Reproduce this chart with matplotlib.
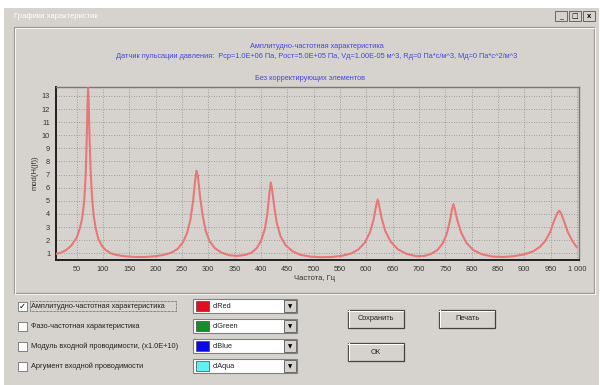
import numpy as np
import matplotlib.pyplot as plt
from matplotlib.patches import Rectangle
from matplotlib.colors import LinearSegmentedColormap

W, H = 600, 385

# АЧХ
freq = [10, 20, 30, 40, 45, 50, 55, 60, 64, 67, 69, 70.5, 71.5, 72.5, 74, 76, 79, 82, 86, 91,
        98, 105, 115, 125, 140, 160, 180, 200, 215, 230, 242, 252, 260, 266, 271, 275, 277.5,
        280, 284, 289, 295, 302, 312, 325, 340, 355, 370, 382, 392, 400, 407, 412, 416, 418.5,
        421, 425, 430, 437, 447, 460, 475, 495, 515, 535, 555, 572, 585, 597, 607, 614, 619,
        621.5, 624, 629, 636, 646, 660, 677, 695, 710, 723, 735, 745, 753, 759, 763, 765.5,
        768, 773, 780, 790, 803, 820, 840, 860, 880, 900, 917, 930, 940, 949, 956, 962, 966.5,
        970, 976, 983, 992, 1000]
amp = [0.95, 1.05, 1.25, 1.6, 1.9, 2.2, 2.8, 3.6, 4.9, 7.0, 9.8, 12.5, 13.6, 12.8, 10.2, 7.6,
       5.3, 3.9, 2.9, 2.1, 1.55, 1.25, 1.0, 0.88, 0.78, 0.72, 0.72, 0.78, 0.88, 1.05, 1.35, 1.85,
       2.6, 3.6, 5.0, 6.6, 7.3, 6.9, 5.4, 3.9, 2.7, 1.95, 1.4, 1.05, 0.85, 0.8, 0.88, 1.05, 1.4,
       1.95, 2.8, 4.0, 5.6, 6.4, 5.9, 4.6, 3.3, 2.3, 1.6, 1.15, 0.88, 0.74, 0.7, 0.72, 0.82, 1.0,
       1.3, 1.8, 2.6, 3.6, 4.7, 5.1, 4.7, 3.7, 2.7, 1.9, 1.3, 0.95, 0.78, 0.8, 0.95, 1.25, 1.75,
       2.5, 3.5, 4.4, 4.75, 4.4, 3.5, 2.6, 1.8, 1.25, 0.92, 0.75, 0.72, 0.78, 0.92, 1.15, 1.5,
       1.95, 2.6, 3.4, 4.0, 4.25, 4.05, 3.4, 2.6, 1.9, 1.45]

x_ticks = list(range(50, 1001, 50))
x_tick_labels = [str(v) if v < 1000 else '1 000' for v in x_ticks]
y_ticks = list(range(1, 14))

window_title = 'Графики характеристик'
chart_titles = ['Амплитудно-частотная характеристика',
                'Датчик пульсации давления:  Pср=1.0E+06 Па, Pост=5.0E+05 Па, Vд=1.00E-05 м^3, '
                'Rд=0 Па*с/м^3, Mд=0 Па*с^2/м^3',
                'Без корректирующих элементов']
check_labels = ['Амплитудно-частотная характеристика',
                'Фазо-частотная характеристика',
                'Модуль входной проводимости, (x1.0E+10)',
                'Аргумент входной проводимости']
check_states = [True, False, False, False]
combo_names = ['clRed', 'clGreen', 'clBlue', 'clAqua']
combo_colors = ['#e0101c', '#168c2a', '#0a0ae6', '#5ff0f0']
button_labels = ['Сохранить', 'Печать', 'ОК']

plt.rcParams['font.family'] = ['Liberation Sans', 'DejaVu Sans']
face = '#d6d3ce'
blue_txt = '#4646dc'

fig = plt.figure(figsize=(6, 3.85), dpi=100)
fig.patch.set_facecolor('white')

# фон окна (координаты в пикселях)
bg = fig.add_axes([0, 0, 1, 1])
bg.axis('off')
bg.add_patch(Rectangle((4, 8), 595, 377, color=face, lw=0))
cm = LinearSegmentedColormap.from_list('tb', ['#0a246a', '#3a6ab8', '#a6caf0'])
bg.imshow(np.linspace(0, 1, 256).reshape(1, -1), cmap=cm, extent=(5, 598, 23, 9), aspect='auto')
bg.text(14, 16, window_title, color='white', fontsize=5.5, va='center')
for bx in [555, 569, 583]:
    bg.add_patch(Rectangle((bx, 11), 12, 10, facecolor=face, edgecolor='#555555', lw=0.6))
bg.text(561, 17, '_', fontsize=5, ha='center', va='center')
bg.text(575, 16, '□', fontsize=5, ha='center', va='center', family=['DejaVu Sans'])
bg.text(589, 16, 'x', fontsize=5.5, ha='center', va='center', fontweight='bold')

# рамка панели графика
bg.add_patch(Rectangle((14, 27), 580, 266, facecolor='none', edgecolor='#9c9a94', lw=0.9))
bg.add_patch(Rectangle((15, 28), 580, 266, facecolor='none', edgecolor='white', lw=0.6))

bg.text(317, 47, chart_titles[0], color=blue_txt, fontsize=5.3, ha='center', va='center')
bg.text(317, 57, chart_titles[1], color=blue_txt, fontsize=5.3, ha='center', va='center')
bg.text(310, 79, chart_titles[2], color=blue_txt, fontsize=5.3, ha='center', va='center')

bg.text(35, 173, 'mod(H(jf))', rotation=90, fontsize=5.5, ha='center', va='center', color='#333333')
bg.text(315, 278, 'Частота, Гц', fontsize=5.5, ha='center', va='center', color='#333333')

# флажки и списки цветов
rows_y = [306, 326, 346, 366]
for yy, lab, st, nm, col in zip(rows_y, check_labels, check_states, combo_names, combo_colors):
    bg.add_patch(Rectangle((18, yy - 4.5), 9, 9, facecolor='white', edgecolor='#808080', lw=0.7))
    if st:
        bg.text(22.5, yy, '✓', fontsize=6, ha='center', va='center', family=['DejaVu Sans'])
    bg.text(31, yy, lab, fontsize=5.3, va='center', color='#222222')
    if st:
        bg.add_patch(Rectangle((29.5, yy - 5), 146, 10, facecolor='none', edgecolor='#333333',
                               lw=0.5, linestyle=(0, (1, 1))))
    bg.add_patch(Rectangle((193, yy - 7), 104, 14, facecolor='white', edgecolor='#808080', lw=0.8))
    bg.add_patch(Rectangle((196, yy - 5), 13, 10, facecolor=col, edgecolor='#444444', lw=0.5))
    bg.text(213, yy, nm, fontsize=5.3, va='center', color='#222222')
    bg.add_patch(Rectangle((284, yy - 6), 12, 12, facecolor=face, edgecolor='#555555', lw=0.6))
    bg.text(290, yy + 0.5, '▼', fontsize=4, ha='center', va='center', family=['DejaVu Sans'])

# кнопки
for (bx, by), lab in zip([(348, 310), (439, 310), (348, 343)], button_labels):
    bg.add_patch(Rectangle((bx, by), 56, 18, facecolor=face, edgecolor='#404040', lw=0.9))
    bg.plot([bx, bx + 55], [by + 0.8, by + 0.8], color='white', lw=0.8)
    bg.plot([bx + 0.8, bx + 0.8], [by, by + 17], color='white', lw=0.8)
    bg.text(bx + 28, by + 9, lab, fontsize=5.3, ha='center', va='center', color='#222222')

bg.set_xlim(0, W)
bg.set_ylim(H, 0)

# график
ax = fig.add_axes([55.7 / W, 1 - 260 / H, (579 - 55.7) / W, (260 - 86.7) / H])
ax.set_facecolor(face)
ax.plot(freq, amp, color='#e87878', lw=1.5, zorder=3)
ax.set_xlim(10, 1004)
ax.set_ylim(0.49, 13.7)
ax.set_xticks(x_ticks)
ax.set_xticklabels(x_tick_labels)
ax.set_yticks(y_ticks)
ax.tick_params(length=0, labelsize=5.3, labelcolor='#333333', pad=4)
ax.grid(True, color='#8c8c8c', lw=0.6, linestyle=(0, (1, 2)))
for s in ['left', 'bottom']:
    ax.spines[s].set_color('#202020')
    ax.spines[s].set_linewidth(1.4)
for s in ['top', 'right']:
    ax.spines[s].set_color('#777777')
    ax.spines[s].set_linewidth(1.0)

fig.savefig('out.png', dpi=100, facecolor=fig.get_facecolor())
